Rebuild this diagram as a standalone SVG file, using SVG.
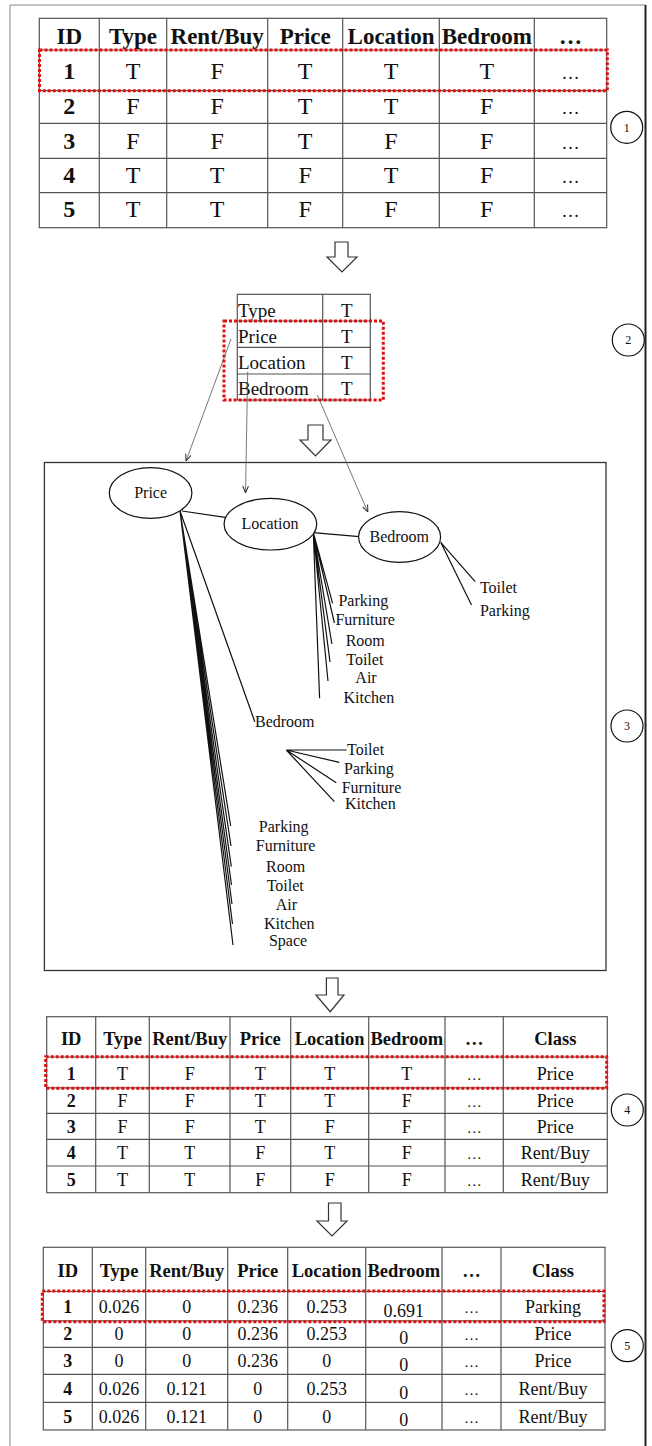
<svg xmlns="http://www.w3.org/2000/svg" width="652" height="1446" viewBox="0 0 652 1446">
<defs>
<style>
.t{font-family:"Liberation Serif","Times New Roman",serif;fill:#111}
.hb{font-weight:bold;text-anchor:middle}
.c{text-anchor:middle}
.grid{stroke:#555;stroke-width:1.2;fill:none}
.red{stroke:#e01010;stroke-width:3;stroke-dasharray:3 2;fill:none}
.blk{fill:#fff;stroke:#333;stroke-width:1.2}
.tl{stroke:#111;stroke-width:1.2;fill:none}
.thin{stroke:#555;stroke-width:0.8;fill:none}
.num{fill:#fff;stroke:#111;stroke-width:1.2}
.f1{font-size:23px}
.f1b{font-size:24px}
.f2{font-size:18.5px}
.f2b{font-size:18px}
.tr{font-size:16px}
.cn{font-size:12px;text-anchor:middle}
</style>
<marker id="ah" viewBox="0 0 10 10" refX="10" refY="5" markerWidth="7" markerHeight="7" orient="auto" markerUnits="userSpaceOnUse">
<path d="M0,1 L10,5 L0,9" fill="none" stroke="#333" stroke-width="1.5"/>
</marker>
</defs>
<rect width="652" height="1446" fill="#fff"/>
<g id="frame">
<path d="M10,1446 V5 H645.5" fill="none" stroke="#888" stroke-width="1"/>
<line x1="645.5" y1="5" x2="645.5" y2="1446" stroke="#222" stroke-width="2"/>
</g>

<!-- Table 1 -->
<g id="table1">
<rect x="39.3" y="18.3" width="567.4" height="209.4" class="grid"/>
<path class="grid" d="M99.3,18.3V227.7M166.7,18.3V227.7M267.7,18.3V227.7M342.7,18.3V227.7M439.3,18.3V227.7M534.3,18.3V227.7M39.3,50H606.7M39.3,90.7H606.7M39.3,123.3H606.7M39.3,158.3H606.7M39.3,192.7H606.7"/>
<g class="t hb f1">
<text x="69.3" y="43.5">ID</text><text x="133" y="43.5">Type</text><text x="217.2" y="43.5">Rent/Buy</text><text x="305.2" y="43.5">Price</text><text x="391" y="43.5">Location</text><text x="486.8" y="43.5">Bedroom</text><text x="570.5" y="43.5">…</text>
</g>
<g class="t f1b c">
<text x="69.3" y="79" font-weight="bold">1</text><text x="133" y="79">T</text><text x="217.2" y="79">F</text><text x="305.2" y="79">T</text><text x="391" y="79">T</text><text x="486.8" y="79">T</text><text x="570.5" y="79" font-size="18">…</text>
<text x="69.3" y="114" font-weight="bold">2</text><text x="133" y="114">F</text><text x="217.2" y="114">F</text><text x="305.2" y="114">T</text><text x="391" y="114">T</text><text x="486.8" y="114">F</text><text x="570.5" y="114" font-size="18">…</text>
<text x="69.3" y="148.5" font-weight="bold">3</text><text x="133" y="148.5">F</text><text x="217.2" y="148.5">F</text><text x="305.2" y="148.5">T</text><text x="391" y="148.5">F</text><text x="486.8" y="148.5">F</text><text x="570.5" y="148.5" font-size="18">…</text>
<text x="69.3" y="183" font-weight="bold">4</text><text x="133" y="183">T</text><text x="217.2" y="183">T</text><text x="305.2" y="183">F</text><text x="391" y="183">T</text><text x="486.8" y="183">F</text><text x="570.5" y="183" font-size="18">…</text>
<text x="69.3" y="217" font-weight="bold">5</text><text x="133" y="217">T</text><text x="217.2" y="217">T</text><text x="305.2" y="217">F</text><text x="391" y="217">F</text><text x="486.8" y="217">F</text><text x="570.5" y="217" font-size="18">…</text>
</g>
<rect x="39.5" y="50" width="567.8" height="40.7" class="red"/>
</g>
<g id="step1"><circle cx="626.7" cy="127.3" r="16" class="num"/><text x="626.7" y="131.5" class="t cn">1</text></g>

<g id="arrow1"><path class="blk" d="M335,242H348V257H357L342,272L327,257H335Z"/></g>

<!-- Small table -->
<g id="table2">
<rect x="237.3" y="294.3" width="133" height="105.7" class="grid"/>
<path class="grid" d="M322.7,294.3V400M237.3,321H370.3M237.3,347.3H370.3M237.3,374H370.3"/>
<g class="t" font-size="19">
<text x="238" y="317.3">Type</text><text x="238" y="343.3">Price</text><text x="238" y="369.3">Location</text><text x="238" y="395.3">Bedroom</text>
<text x="346.7" y="317.3" text-anchor="middle">T</text><text x="346.7" y="343.3" text-anchor="middle">T</text><text x="346.7" y="369.3" text-anchor="middle">T</text><text x="346.7" y="395.3" text-anchor="middle">T</text>
</g>
<rect x="224" y="321" width="159.3" height="79" class="red"/>
</g>
<g id="step2"><circle cx="628.3" cy="340" r="16" class="num"/><text x="628.3" y="344.2" class="t cn">2</text></g>

<g id="arrow2"><path class="blk" d="M308,425H323V440H331L315.5,456L300,440H308Z"/></g>

<!-- Tree box -->
<g id="treebox"><rect x="44.4" y="462.5" width="561.6" height="508" fill="none" stroke="#333" stroke-width="1.3"/></g>

<g id="connectors">
<line class="thin" x1="231" y1="339" x2="186" y2="461" marker-end="url(#ah)"/>
<line class="thin" x1="247.7" y1="371.7" x2="245.5" y2="493" marker-end="url(#ah)"/>
<line class="thin" x1="317.3" y1="395" x2="367.8" y2="512" marker-end="url(#ah)"/>
<line class="tl" x1="181.9" y1="511" x2="225.2" y2="517.3"/>
<line class="tl" x1="313.3" y1="532.7" x2="359.3" y2="536.7"/>
<!-- Price fan -->
<path class="tl" d="M180,511L254.8,721.7M180,511L230.7,826M180,511L231,846M180,511L231.3,866.7M180,511L231.5,885M180,511L232,904M180,511L232.5,924M180,511L233,945"/>
<!-- Location fan -->
<path class="tl" d="M313.3,532.3L332.6,603.3M313.3,532.3L334.4,623M313.3,532.3L331.9,644M313.3,532.3L330,662M313.3,532.3L328,681M313.3,532.3L319.6,698.3"/>
<!-- Bedroom fan -->
<path class="tl" d="M440.7,542.3L475.2,581.7M440.7,542.3L471.5,605"/>
<!-- sub fan -->
<path class="tl" d="M286.3,750L346.7,750M286.3,750L339.3,762.3M286.3,750L336.3,782.7M286.3,750L334.4,801.7"/>
</g>

<g id="node-price"><ellipse cx="150.6" cy="493" rx="41.3" ry="25.3" fill="#fff" stroke="#111" stroke-width="1.2"/><text x="150.6" y="497.5" class="t tr c">Price</text></g>
<g id="node-location"><ellipse cx="270.4" cy="524.2" rx="46.3" ry="25.8" fill="#fff" stroke="#111" stroke-width="1.2"/><text x="270" y="529" class="t tr c">Location</text></g>
<g id="node-bedroom"><ellipse cx="399.6" cy="537" rx="41" ry="25.3" fill="#fff" stroke="#111" stroke-width="1.2"/><text x="399.3" y="542" class="t tr c">Bedroom</text></g>

<g id="labels-location" class="t tr c">
<text x="363.3" y="605.5">Parking</text><text x="365.2" y="624.5">Furniture</text><text x="365.2" y="645.5">Room</text><text x="364.8" y="664.5">Toilet</text><text x="366" y="683">Air</text><text x="368.9" y="703">Kitchen</text>
</g>
<g id="labels-bedroom" class="t tr c">
<text x="498.5" y="593">Toilet</text><text x="504.8" y="616">Parking</text>
</g>
<g id="label-bedroom2"><text x="255" y="727" class="t tr">Bedroom</text></g>
<g id="labels-sub" class="t tr">
<text x="347" y="755">Toilet</text><text x="368.9" y="773.5" text-anchor="middle">Parking</text><text x="371.5" y="792.5" text-anchor="middle">Furniture</text><text x="370.4" y="808.5" text-anchor="middle">Kitchen</text>
</g>
<g id="labels-price" class="t tr c">
<text x="283.7" y="831.5">Parking</text><text x="285.6" y="851">Furniture</text><text x="285.6" y="872">Room</text><text x="285.2" y="891">Toilet</text><text x="286.3" y="909.5">Air</text><text x="289.3" y="929">Kitchen</text><text x="288" y="945.5">Space</text>
</g>
<g id="step3"><circle cx="627" cy="726" r="16" class="num"/><text x="627" y="730.2" class="t cn">3</text></g>

<g id="arrow3"><path class="blk" d="M326.4,978H338V995H344L330.2,1011.7L316,995H326.4Z"/></g>

<!-- Table 4 -->
<g id="table4">
<rect x="46.7" y="1016.7" width="560.6" height="176" class="grid"/>
<path class="grid" d="M95.7,1016.7V1192.7M149.3,1016.7V1192.7M230,1016.7V1192.7M290.7,1016.7V1192.7M368.7,1016.7V1192.7M445,1016.7V1192.7M503.3,1016.7V1192.7M46.7,1057H607.3M46.7,1087.8H607.3M46.7,1113.3H607.3M46.7,1139.3H607.3M46.7,1166H607.3"/>
<g class="t hb f2">
<text x="71.2" y="1045">ID</text><text x="122.5" y="1045">Type</text><text x="189.7" y="1045">Rent/Buy</text><text x="260.3" y="1045">Price</text><text x="329.7" y="1045">Location</text><text x="406.8" y="1045">Bedroom</text><text x="474.2" y="1045">…</text><text x="555.3" y="1045">Class</text>
</g>
<g class="t f2b c">
<text x="71.2" y="1080" font-weight="bold">1</text><text x="122.5" y="1080">T</text><text x="189.7" y="1080">F</text><text x="260.3" y="1080">T</text><text x="329.7" y="1080">T</text><text x="406.8" y="1080">T</text><text x="474.2" y="1080" font-size="15">…</text><text x="555.3" y="1080">Price</text>
<text x="71.2" y="1106.5" font-weight="bold">2</text><text x="122.5" y="1106.5">F</text><text x="189.7" y="1106.5">F</text><text x="260.3" y="1106.5">T</text><text x="329.7" y="1106.5">T</text><text x="406.8" y="1106.5">F</text><text x="474.2" y="1106.5" font-size="15">…</text><text x="555.3" y="1106.5">Price</text>
<text x="71.2" y="1132.5" font-weight="bold">3</text><text x="122.5" y="1132.5">F</text><text x="189.7" y="1132.5">F</text><text x="260.3" y="1132.5">T</text><text x="329.7" y="1132.5">F</text><text x="406.8" y="1132.5">F</text><text x="474.2" y="1132.5" font-size="15">…</text><text x="555.3" y="1132.5">Price</text>
<text x="71.2" y="1159" font-weight="bold">4</text><text x="122.5" y="1159">T</text><text x="189.7" y="1159">T</text><text x="260.3" y="1159">F</text><text x="329.7" y="1159">T</text><text x="406.8" y="1159">F</text><text x="474.2" y="1159" font-size="15">…</text><text x="555.3" y="1159">Rent/Buy</text>
<text x="71.2" y="1185.5" font-weight="bold">5</text><text x="122.5" y="1185.5">T</text><text x="189.7" y="1185.5">T</text><text x="260.3" y="1185.5">F</text><text x="329.7" y="1185.5">F</text><text x="406.8" y="1185.5">F</text><text x="474.2" y="1185.5" font-size="15">…</text><text x="555.3" y="1185.5">Rent/Buy</text>
</g>
<rect x="45.7" y="1056.7" width="561" height="31.6" class="red"/>
</g>
<g id="step4"><circle cx="627.3" cy="1110" r="16" class="num"/><text x="627.3" y="1114.2" class="t cn">4</text></g>

<g id="arrow4"><path class="blk" d="M328.5,1203H341V1221H347L332,1236L317,1221H328.5Z"/></g>

<!-- Table 5 -->
<g id="table5">
<rect x="43.3" y="1247.3" width="561.7" height="182.7" class="grid"/>
<path class="grid" d="M92.3,1247.3V1430M145.7,1247.3V1430M227.7,1247.3V1430M287.7,1247.3V1430M365.7,1247.3V1430M442,1247.3V1430M501,1247.3V1430M43.3,1291.5H605M43.3,1320.8H605M43.3,1347.3H605M43.3,1374.3H605M43.3,1402.3H605"/>
<g class="t hb f2">
<text x="67.8" y="1277">ID</text><text x="119" y="1277">Type</text><text x="186.7" y="1277">Rent/Buy</text><text x="257.7" y="1277">Price</text><text x="326.7" y="1277">Location</text><text x="403.8" y="1277">Bedroom</text><text x="471.5" y="1277">…</text><text x="553" y="1277">Class</text>
</g>
<g class="t f2b c">
<text x="67.8" y="1312.5" font-weight="bold">1</text><text x="119" y="1312.5">0.026</text><text x="186.7" y="1312.5">0</text><text x="257.7" y="1312.5">0.236</text><text x="326.7" y="1312.5">0.253</text><text x="403.8" y="1316.5">0.691</text><text x="471.5" y="1312.5" font-size="15">…</text><text x="553" y="1312.5">Parking</text>
<text x="67.8" y="1340" font-weight="bold">2</text><text x="119" y="1340">0</text><text x="186.7" y="1340">0</text><text x="257.7" y="1340">0.236</text><text x="326.7" y="1340">0.253</text><text x="403.8" y="1344">0</text><text x="471.5" y="1340" font-size="15">…</text><text x="553" y="1340">Price</text>
<text x="67.8" y="1367" font-weight="bold">3</text><text x="119" y="1367">0</text><text x="186.7" y="1367">0</text><text x="257.7" y="1367">0.236</text><text x="326.7" y="1367">0</text><text x="403.8" y="1371">0</text><text x="471.5" y="1367" font-size="15">…</text><text x="553" y="1367">Price</text>
<text x="67.8" y="1395" font-weight="bold">4</text><text x="119" y="1395">0.026</text><text x="186.7" y="1395">0.121</text><text x="257.7" y="1395">0</text><text x="326.7" y="1395">0.253</text><text x="403.8" y="1399">0</text><text x="471.5" y="1395" font-size="15">…</text><text x="553" y="1395">Rent/Buy</text>
<text x="67.8" y="1422.5" font-weight="bold">5</text><text x="119" y="1422.5">0.026</text><text x="186.7" y="1422.5">0.121</text><text x="257.7" y="1422.5">0</text><text x="326.7" y="1422.5">0</text><text x="403.8" y="1426">0</text><text x="471.5" y="1422.5" font-size="15">…</text><text x="553" y="1422.5">Rent/Buy</text>
</g>
<rect x="42.3" y="1291" width="561.7" height="30.7" class="red"/>
</g>
<g id="step5"><circle cx="627.3" cy="1345.7" r="16" class="num"/><text x="627.3" y="1349.9" class="t cn">5</text></g>
</svg>
